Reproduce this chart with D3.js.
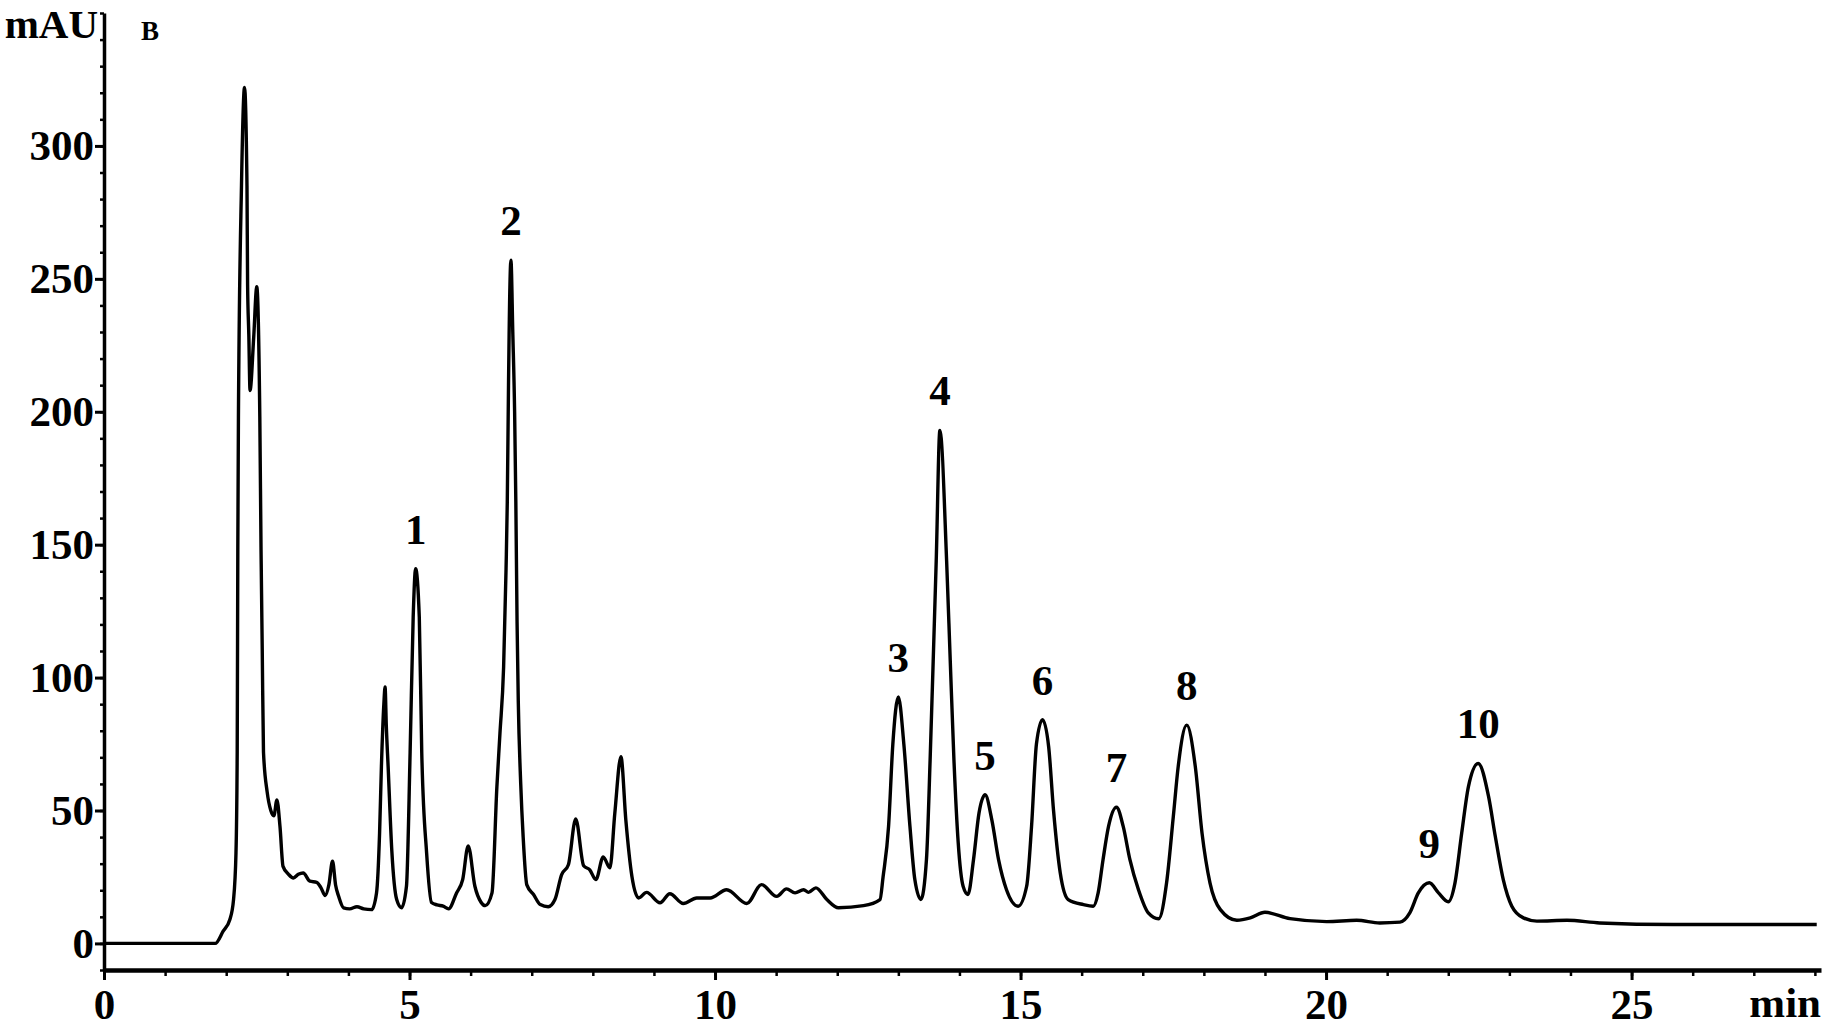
<!DOCTYPE html>
<html>
<head>
<meta charset="utf-8">
<script src="https://cdn.jsdelivr.net/npm/d3@7"></script>
<style>
  body { margin: 0; background: #fff; }
  text { font-family: "Liberation Serif", "Times New Roman", serif; font-weight: bold; fill: #000; }
</style>
</head>
<body>
<svg id="chart" width="1833" height="1032"></svg>
<script>

// chromatogram trace: retention time (min) and absorbance (mAU)
let trace_time = [
  0, 1.82, 1.95, 2.06, 2.12, 2.16, 2.18, 2.19, 2.20, 2.25, 2.30, 2.34, 2.35, 2.37, 2.39, 2.45, 2.50,
  2.55, 2.57, 2.59, 2.61, 2.67, 2.73, 2.78, 2.83, 2.88, 2.93, 3.02, 3.10, 3.18, 3.26, 3.37, 3.48,
  3.55, 3.62, 3.68, 3.74, 3.79, 3.84, 3.92, 4.02, 4.14, 4.25, 4.38, 4.46, 4.51, 4.54, 4.58, 4.60,
  4.62, 4.65, 4.71, 4.79, 4.87, 4.95, 5.01, 5.06, 5.10, 5.16, 5.20, 5.28, 5.36, 5.45, 5.55, 5.64,
  5.77, 5.87, 5.96, 6.07, 6.17, 6.24, 6.35, 6.43, 6.48, 6.54, 6.58, 6.60, 6.62, 6.63, 6.66, 6.69,
  6.72, 6.74, 6.76, 6.78, 6.82, 6.86, 6.92, 7.03, 7.14, 7.27, 7.38, 7.49, 7.60, 7.72, 7.85, 7.95,
  8.05, 8.17, 8.28, 8.36, 8.46, 8.54, 8.64, 8.75, 8.88, 9.10, 9.26, 9.48, 9.70, 9.92, 10.19, 10.52,
  10.76, 11.01, 11.17, 11.31, 11.45, 11.53, 11.65, 11.83, 12.02, 12.43, 12.70, 12.75, 12.84, 12.91,
  13.00, 13.09, 13.19, 13.27, 13.37, 13.46, 13.52, 13.57, 13.62, 13.68, 13.79, 13.85, 13.91, 13.98,
  14.06, 14.14, 14.23, 14.32, 14.42, 14.53, 14.64, 14.77, 14.96, 15.10, 15.18, 15.26, 15.36, 15.46,
  15.54, 15.65, 15.78, 16.03, 16.19, 16.27, 16.35, 16.44, 16.57, 16.68, 16.79, 16.93, 17.09, 17.26,
  17.39, 17.50, 17.58, 17.72, 17.86, 17.97, 18.10, 18.27, 18.54, 18.76, 19.00, 19.41, 20.01, 20.50,
  20.88, 21.21, 21.37, 21.51, 21.69, 21.84, 22.00, 22.11, 22.22, 22.33, 22.49, 22.66, 22.77, 22.90,
  23.04, 23.23, 23.45, 23.94, 24.48, 25.68, 28.03
]
let trace_mau = [
  0, 0, 4.6, 9, 16.5, 34, 72, 148, 198, 285, 322, 285, 248, 229, 208, 228, 247,
  198, 148, 110, 72, 57, 50, 48, 54, 44, 29, 26, 24.6, 26, 26.5, 23.4, 23,
  21, 18, 22, 30.9, 22, 17.7, 13.4, 13, 13.8, 13, 12.7, 19, 41.5, 66.5, 90, 96.5,
  82, 66.5, 35, 16.5, 13.4, 21.5, 72, 122.7, 141, 122.7, 72, 34, 15.4, 14.5, 14, 13,
  19, 24, 36.7, 21.5, 15.5, 14.2, 19, 59, 79, 104, 141, 166, 210, 229, 257, 230,
  200, 166, 121, 91, 60, 40, 22, 18.4, 14.6, 13.8, 16.5, 25.9, 29.6, 46.8, 29.2, 27.7,
  24, 32.5, 28.4, 49, 70.2, 46.5, 25.2, 17.1, 19.2, 15.3, 18.7, 15, 17.1, 17.1, 20.2, 15,
  22.1, 17.7, 20.5, 19, 20.2, 19.2, 20.9, 16.5, 13.4, 14.2, 16.5, 25, 44, 75,
  92.7, 75, 44, 24, 16.5, 31.5, 69, 106, 144, 193, 144, 106, 69, 37.8,
  21.5, 18.4, 31.5, 49, 55.9, 46.5, 31.5, 20.2, 14, 21.5, 44, 75, 84.2, 74,
  50, 26.5, 16.5, 14.6, 14, 19, 31.5, 44, 51.2, 44, 31.5, 20.2, 11.5, 9.3,
  22.8, 47.7, 66.5, 82.1, 66.5, 41.5, 22.8, 12.7, 8.7, 9.6, 11.7, 9.3, 8.2, 8.7,
  7.7, 8, 11.5, 19, 22.8, 19, 15.7, 22.8, 41.5, 59, 67.7, 55.2, 40.2, 24,
  14, 9.6, 8.4, 8.7, 7.7, 7.1, 7.1
]

// numbered peaks
let peak_labels = ["1", "2", "3", "4", "5", "6", "7", "8", "9", "10"]
let peak_time = [5.10, 6.66, 13.00, 13.68, 14.42, 15.36, 16.57, 17.72, 21.69, 22.49]
let peak_mau = [141, 257, 92.7, 193, 55.9, 84.2, 51.2, 82.1, 22.8, 67.7]

let x_ticks = [0, 5, 10, 15, 20, 25]
let x_minor = d3.range(0, 29, 1)
let y_ticks = [0, 50, 100, 150, 200, 250, 300]
let y_minor = d3.range(-10, 351, 10)

let width = 1833,
    height = 1032,
    margins = {left: 104, right: 12, top: 13, bottom: 62},
    font_size = 43

function make_scales() {
  return {
    x: d3.scaleLinear()
      .domain([0, 28.1])
      .range([margins.left, width - margins.right]),
    y: d3.scaleLinear()
      .domain([-10, 350])
      .range([height - margins.bottom, margins.top])
  }
}

function draw_axes(svg, scales) {
  let x_base = scales.y(-10)

  // minor ticks first, majors on top
  svg.append("g")
    .attr("transform", `translate(0, ${x_base})`)
    .call(d3.axisBottom(scales.x).tickValues(x_minor).tickSize(6).tickSizeOuter(0).tickFormat(""))
    .call(g => g.select(".domain").remove())
    .selectAll("line").attr("stroke-width", 2.5)

  let xa = svg.append("g")
    .attr("transform", `translate(0, ${x_base})`)
    .call(d3.axisBottom(scales.x).tickValues(x_ticks).tickSize(10).tickPadding(8).tickSizeOuter(0))
  xa.select(".domain").attr("stroke-width", 4.5)
  xa.selectAll("line").attr("stroke-width", 3)
  xa.selectAll("text").attr("font-size", font_size).attr("font-family", null)

  svg.append("g")
    .attr("transform", `translate(${margins.left}, 0)`)
    .call(d3.axisLeft(scales.y).tickValues(y_minor).tickSize(4).tickSizeOuter(0).tickFormat(""))
    .call(g => g.select(".domain").remove())
    .selectAll("line").attr("stroke-width", 2.5)

  let ya = svg.append("g")
    .attr("transform", `translate(${margins.left}, 0)`)
    .call(d3.axisLeft(scales.y).tickValues(y_ticks).tickSize(9).tickPadding(1).tickSizeOuter(0))
  ya.select(".domain").attr("stroke-width", 3.5)
  ya.selectAll("line").attr("stroke-width", 3)
  ya.selectAll("text").attr("font-size", font_size).attr("font-family", null)
}

function draw_trace(svg, scales) {
  let points = trace_time.map((t, i) => [t, trace_mau[i]])
  let line = d3.line()
    .x(d => scales.x(d[0]))
    .y(d => scales.y(d[1]))
    .curve(d3.curveMonotoneX)

  svg.append("path")
    .datum(points)
    .attr("d", line)
    .attr("fill", "none")
    .attr("stroke", "#000")
    .attr("stroke-width", 3.4)
    .attr("stroke-linejoin", "round")
}

function annotate(svg, scales) {
  svg.append("g")
    .selectAll("text")
    .data(peak_labels).enter()
    .append("text")
    .attr("x", (d, i) => scales.x(peak_time[i]))
    .attr("y", (d, i) => scales.y(peak_mau[i]) - 25)
    .attr("text-anchor", "middle")
    .attr("font-size", font_size)
    .text(d => d)

  svg.append("text")
    .attr("x", 98).attr("y", 38)
    .attr("text-anchor", "end")
    .attr("font-size", 41)
    .text("mAU")

  svg.append("text")
    .attr("x", 141).attr("y", 40)
    .attr("font-size", 27)
    .text("B")

  svg.append("text")
    .attr("x", width - margins.right).attr("y", 1017)
    .attr("text-anchor", "end")
    .attr("font-size", font_size)
    .text("min")
}

let svg = d3.select("#chart")
let scales = make_scales()
draw_axes(svg, scales)
draw_trace(svg, scales)
annotate(svg, scales)

</script>
</body>
</html>
